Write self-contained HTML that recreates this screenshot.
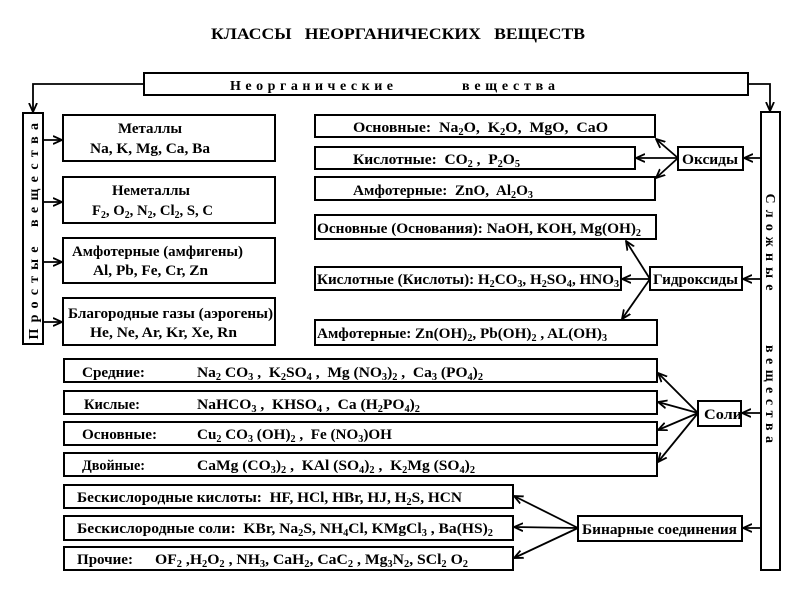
<!DOCTYPE html>
<html><head><meta charset="utf-8"><style>
body{margin:0;background:#fff}
svg text{font-family:"Liberation Serif","DejaVu Serif",serif;font-weight:bold;fill:#000}
</style></head><body>
<svg width="800" height="600" viewBox="0 0 800 600" xmlns="http://www.w3.org/2000/svg">
<defs><marker id="a" markerWidth="10" markerHeight="10" refX="9" refY="5" orient="auto" markerUnits="userSpaceOnUse"><path d="M0,1 L9,5 L0,9" fill="none" stroke="#000" stroke-width="1.8"/></marker></defs>
<g fill="none" stroke="#000" stroke-width="2">
<rect x="144" y="73" width="604" height="22"/>
<rect x="23" y="113" width="20" height="231"/>
<rect x="761" y="112" width="19" height="458"/>
<rect x="63" y="115" width="212" height="46"/>
<rect x="63" y="177" width="212" height="46"/>
<rect x="63" y="238" width="212" height="45"/>
<rect x="63" y="298" width="212" height="47"/>
<rect x="315" y="115" width="340" height="22"/>
<rect x="315" y="147" width="320" height="22"/>
<rect x="315" y="177" width="340" height="23"/>
<rect x="678" y="147" width="65" height="23"/>
<rect x="315" y="215" width="341" height="24"/>
<rect x="315" y="267" width="306" height="23"/>
<rect x="315" y="320" width="342" height="25"/>
<rect x="650" y="267" width="92" height="23"/>
<rect x="64" y="359" width="593" height="23"/>
<rect x="64" y="391" width="593" height="23"/>
<rect x="64" y="422" width="593" height="23"/>
<rect x="64" y="453" width="593" height="23"/>
<rect x="698" y="401" width="43" height="25"/>
<rect x="64" y="485" width="449" height="23"/>
<rect x="64" y="516" width="449" height="24"/>
<rect x="64" y="547" width="449" height="23"/>
<rect x="578" y="516" width="164" height="25"/>
</g>
<g fill="none" stroke="#000" stroke-width="1.8" marker-end="url(#a)">
<path d="M144,84 H33 V112"/>
<path d="M748,84 H770 V111"/>
<path d="M43,140 H62"/><path d="M43,202 H62"/><path d="M43,262 H62"/><path d="M43,322 H62"/>
<path d="M761,158 H744"/><path d="M761,279 H743"/><path d="M761,413 H742"/><path d="M761,528 H743"/>
<path d="M678,158 L656,139"/><path d="M678,158 L636,158"/><path d="M678,158 L656,178"/>
<path d="M650,279 L626,241"/><path d="M650,279 L622,279"/><path d="M650,279 L622,319"/>
<path d="M698,413 L658,373"/><path d="M698,413 L658,402"/><path d="M698,413 L658,430"/><path d="M698,413 L658,462"/>
<path d="M578,528 L514,496"/><path d="M578,528 L514,527"/><path d="M578,528 L514,558"/>
</g>
<g lengthAdjust="spacingAndGlyphs">
<text x="211" y="39" font-size="16" textLength="374" lengthAdjust="spacingAndGlyphs" xml:space="preserve">КЛАССЫ   НЕОРГАНИЧЕСКИХ   ВЕЩЕСТВ</text>
<text x="230" y="90" font-size="14" textLength="163" lengthAdjust="spacing">Неорганические</text>
<text x="462" y="90" font-size="14" textLength="93" lengthAdjust="spacing">вещества</text>
<text transform="translate(38,293) rotate(-90)" font-size="14" text-anchor="middle" textLength="93" lengthAdjust="spacing">Простые</text>
<text transform="translate(38,175) rotate(-90)" font-size="14" text-anchor="middle" textLength="104" lengthAdjust="spacing">вещества</text>
<text transform="translate(766,242) rotate(90)" font-size="14" text-anchor="middle" textLength="97" lengthAdjust="spacing">Сложные</text>
<text transform="translate(766,394) rotate(90)" font-size="14" text-anchor="middle" textLength="98" lengthAdjust="spacing">вещества</text>
</g>
<g font-size="15">
<text x="118" y="133" textLength="64" lengthAdjust="spacingAndGlyphs">Металлы</text>
<text x="90" y="153" textLength="120" lengthAdjust="spacingAndGlyphs">Na, K, Mg, Ca, Ba</text>
<text x="112" y="195" textLength="78" lengthAdjust="spacingAndGlyphs">Неметаллы</text>
<text x="92" y="215" textLength="121" lengthAdjust="spacingAndGlyphs">F<tspan font-size="10" dy="3">2</tspan><tspan dy="-3">, O</tspan><tspan font-size="10" dy="3">2</tspan><tspan dy="-3">, N</tspan><tspan font-size="10" dy="3">2</tspan><tspan dy="-3">, Cl</tspan><tspan font-size="10" dy="3">2</tspan><tspan dy="-3">, S, C</tspan></text>
<text x="72" y="256" textLength="171" lengthAdjust="spacingAndGlyphs">Амфотерные (амфигены)</text>
<text x="93" y="275" textLength="115" lengthAdjust="spacingAndGlyphs">Al, Pb, Fe, Cr, Zn</text>
<text x="68" y="318" textLength="205" lengthAdjust="spacingAndGlyphs">Благородные газы (аэрогены)</text>
<text x="90" y="337" textLength="147" lengthAdjust="spacingAndGlyphs">He, Ne, Ar, Kr, Xe, Rn</text>
<text x="353" y="132" textLength="255" lengthAdjust="spacingAndGlyphs" xml:space="preserve">Основные:  Na<tspan font-size="10" dy="3">2</tspan><tspan dy="-3">O,  K</tspan><tspan font-size="10" dy="3">2</tspan><tspan dy="-3">O,  MgO,  CaO</tspan></text>
<text x="353" y="164" textLength="167" lengthAdjust="spacingAndGlyphs" xml:space="preserve">Кислотные:  CO<tspan font-size="10" dy="3">2</tspan><tspan dy="-3"> ,  P</tspan><tspan font-size="10" dy="3">2</tspan><tspan dy="-3">O</tspan><tspan font-size="10" dy="3">5</tspan></text>
<text x="353" y="195" textLength="180" lengthAdjust="spacingAndGlyphs" xml:space="preserve">Амфотерные:  ZnO,  Al<tspan font-size="10" dy="3">2</tspan><tspan dy="-3">O</tspan><tspan font-size="10" dy="3">3</tspan></text>
<text x="682" y="164" textLength="56" lengthAdjust="spacingAndGlyphs">Оксиды</text>
<text x="317" y="233" textLength="324" lengthAdjust="spacingAndGlyphs">Основные (Основания): NaOH, KOH, Mg(OH)<tspan font-size="10" dy="3">2</tspan></text>
<text x="317" y="284" textLength="302" lengthAdjust="spacingAndGlyphs">Кислотные (Кислоты): H<tspan font-size="10" dy="3">2</tspan><tspan dy="-3">CO</tspan><tspan font-size="10" dy="3">3</tspan><tspan dy="-3">, H</tspan><tspan font-size="10" dy="3">2</tspan><tspan dy="-3">SO</tspan><tspan font-size="10" dy="3">4</tspan><tspan dy="-3">, HNO</tspan><tspan font-size="10" dy="3">3</tspan></text>
<text x="653" y="284" textLength="85" lengthAdjust="spacingAndGlyphs">Гидроксиды</text>
<text x="317" y="338" textLength="290" lengthAdjust="spacingAndGlyphs">Амфотерные: Zn(OH)<tspan font-size="10" dy="3">2</tspan><tspan dy="-3">, Pb(OH)</tspan><tspan font-size="10" dy="3">2</tspan><tspan dy="-3"> , AL(OH)</tspan><tspan font-size="10" dy="3">3</tspan></text>
<text x="82" y="377" textLength="63" lengthAdjust="spacingAndGlyphs">Средние:</text>
<text x="197" y="377" textLength="286" lengthAdjust="spacingAndGlyphs" xml:space="preserve">Na<tspan font-size="10" dy="3">2</tspan><tspan dy="-3"> CO</tspan><tspan font-size="10" dy="3">3</tspan><tspan dy="-3"> ,  K</tspan><tspan font-size="10" dy="3">2</tspan><tspan dy="-3">SO</tspan><tspan font-size="10" dy="3">4</tspan><tspan dy="-3"> ,  Mg (NO</tspan><tspan font-size="10" dy="3">3</tspan><tspan dy="-3">)</tspan><tspan font-size="10" dy="3">2</tspan><tspan dy="-3"> ,  Ca</tspan><tspan font-size="10" dy="3">3</tspan><tspan dy="-3"> (PO</tspan><tspan font-size="10" dy="3">4</tspan><tspan dy="-3">)</tspan><tspan font-size="10" dy="3">2</tspan></text>
<text x="84" y="409" textLength="56" lengthAdjust="spacingAndGlyphs">Кислые:</text>
<text x="197" y="409" textLength="223" lengthAdjust="spacingAndGlyphs" xml:space="preserve">NaHCO<tspan font-size="10" dy="3">3</tspan><tspan dy="-3"> ,  KHSO</tspan><tspan font-size="10" dy="3">4</tspan><tspan dy="-3"> ,  Ca (H</tspan><tspan font-size="10" dy="3">2</tspan><tspan dy="-3">PO</tspan><tspan font-size="10" dy="3">4</tspan><tspan dy="-3">)</tspan><tspan font-size="10" dy="3">2</tspan></text>
<text x="82" y="439" textLength="75" lengthAdjust="spacingAndGlyphs">Основные:</text>
<text x="197" y="439" textLength="195" lengthAdjust="spacingAndGlyphs" xml:space="preserve">Cu<tspan font-size="10" dy="3">2</tspan><tspan dy="-3"> CO</tspan><tspan font-size="10" dy="3">3</tspan><tspan dy="-3"> (OH)</tspan><tspan font-size="10" dy="3">2</tspan><tspan dy="-3"> ,  Fe (NO</tspan><tspan font-size="10" dy="3">3</tspan><tspan dy="-3">)OH</tspan></text>
<text x="82" y="470" textLength="63" lengthAdjust="spacingAndGlyphs">Двойные:</text>
<text x="197" y="470" textLength="278" lengthAdjust="spacingAndGlyphs" xml:space="preserve">CaMg (CO<tspan font-size="10" dy="3">3</tspan><tspan dy="-3">)</tspan><tspan font-size="10" dy="3">2</tspan><tspan dy="-3"> ,  KAl (SO</tspan><tspan font-size="10" dy="3">4</tspan><tspan dy="-3">)</tspan><tspan font-size="10" dy="3">2</tspan><tspan dy="-3"> ,  K</tspan><tspan font-size="10" dy="3">2</tspan><tspan dy="-3">Mg (SO</tspan><tspan font-size="10" dy="3">4</tspan><tspan dy="-3">)</tspan><tspan font-size="10" dy="3">2</tspan></text>
<text x="704" y="419" textLength="38" lengthAdjust="spacingAndGlyphs">Соли</text>
<text x="77" y="502" textLength="385" lengthAdjust="spacingAndGlyphs" xml:space="preserve">Бескислородные кислоты:  HF, HCl, HBr, HJ, H<tspan font-size="10" dy="3">2</tspan><tspan dy="-3">S, HCN</tspan></text>
<text x="77" y="533" textLength="416" lengthAdjust="spacingAndGlyphs" xml:space="preserve">Бескислородные соли:  KBr, Na<tspan font-size="10" dy="3">2</tspan><tspan dy="-3">S, NH</tspan><tspan font-size="10" dy="3">4</tspan><tspan dy="-3">Cl, KMgCl</tspan><tspan font-size="10" dy="3">3</tspan><tspan dy="-3"> , Ba(HS)</tspan><tspan font-size="10" dy="3">2</tspan></text>
<text x="77" y="564" textLength="56" lengthAdjust="spacingAndGlyphs">Прочие:</text>
<text x="155" y="564" textLength="313" lengthAdjust="spacingAndGlyphs" xml:space="preserve">OF<tspan font-size="10" dy="3">2</tspan><tspan dy="-3"> ,H</tspan><tspan font-size="10" dy="3">2</tspan><tspan dy="-3">O</tspan><tspan font-size="10" dy="3">2</tspan><tspan dy="-3"> , NH</tspan><tspan font-size="10" dy="3">3</tspan><tspan dy="-3">, CaH</tspan><tspan font-size="10" dy="3">2</tspan><tspan dy="-3">, CaC</tspan><tspan font-size="10" dy="3">2</tspan><tspan dy="-3"> , Mg</tspan><tspan font-size="10" dy="3">3</tspan><tspan dy="-3">N</tspan><tspan font-size="10" dy="3">2</tspan><tspan dy="-3">, SCl</tspan><tspan font-size="10" dy="3">2</tspan><tspan dy="-3"> O</tspan><tspan font-size="10" dy="3">2</tspan></text>
<text x="582" y="534" textLength="155" lengthAdjust="spacingAndGlyphs">Бинарные соединения</text>
</g>
</svg>
</body></html>
